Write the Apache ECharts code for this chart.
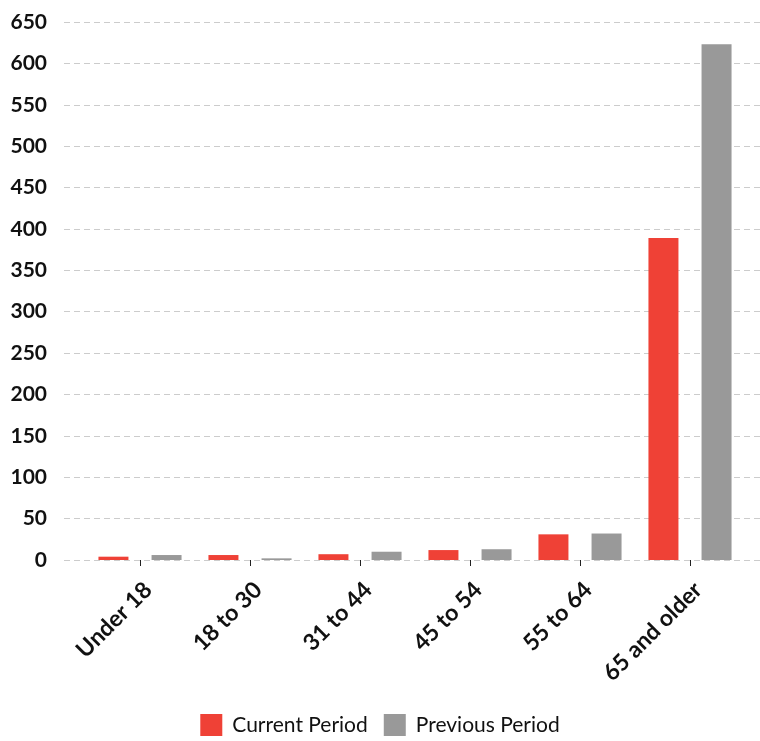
<!DOCTYPE html>
<html>
<head>
<meta charset="utf-8">
<script src="https://cdn.jsdelivr.net/npm/echarts@6/dist/echarts.min.js"></script>
<style>
html,body{margin:0;padding:0;background:#fff;}
#chart{width:760px;height:741px;}
</style>
</head>
<body>
<div id="chart"></div>
<script>
const categories = ["Under 18", "18 to 30", "31 to 44", "45 to 54", "55 to 64", "65 and older"];
const currentPeriod = [4, 6, 7, 12, 31, 389];
const previousPeriod = [6, 2, 10, 13, 32, 623];
const seriesNames = ["Current Period", "Previous Period"];
const yMin = 0, yMax = 650, yStep = 50;

const chart = echarts.init(document.getElementById('chart'));
chart.setOption({
  animation: false,
  backgroundColor: '#ffffff',
  grid: [
    {left: 64, right: 0, top: 22, bottom: 181},
    {left: 85, right: 15, top: 22, bottom: 181}
  ],
  xAxis: [
    {gridIndex: 0, type: 'category', data: categories, show: false},
    {
      gridIndex: 1, type: 'category', data: categories,
      axisLine: {show: false},
      axisTick: {show: true, alignWithLabel: true, length: 6, lineStyle: {color: '#222', width: 1}},
      axisLabel: {rotate: 45, margin: 18, verticalAlign: 'top', color: '#111', fontFamily: 'Lato', fontWeight: 'bold', fontSize: 23, interval: 0}
    }
  ],
  yAxis: [
    {
      gridIndex: 0, type: 'value', min: yMin, max: yMax, interval: yStep,
      axisLine: {show: false}, axisTick: {show: false},
      axisLabel: {margin: 17, color: '#111', fontFamily: 'Lato', fontWeight: 'bold', fontSize: 21},
      splitLine: {show: true, lineStyle: {color: '#cccccc', type: [6, 4], width: 1}}
    },
    {gridIndex: 1, type: 'value', min: yMin, max: yMax, interval: yStep, show: false, splitLine: {show: false}}
  ],
  legend: {
    left: 'center', bottom: 0,
    icon: 'rect', itemWidth: 22, itemHeight: 22, itemGap: 16,
    textStyle: {fontFamily: 'Lato', fontSize: 21, color: '#111', padding: [0, 0, 0, 5]},
    data: seriesNames
  },
  series: [
    {name: seriesNames[0], type: 'bar', xAxisIndex: 1, yAxisIndex: 1, data: currentPeriod,
     barWidth: 30, barGap: '77%', itemStyle: {color: '#EF4136'}},
    {name: seriesNames[1], type: 'bar', xAxisIndex: 1, yAxisIndex: 1, data: previousPeriod,
     barWidth: 30, barGap: '77%', itemStyle: {color: '#999999'}}
  ]
});
</script>
</body>
</html>
